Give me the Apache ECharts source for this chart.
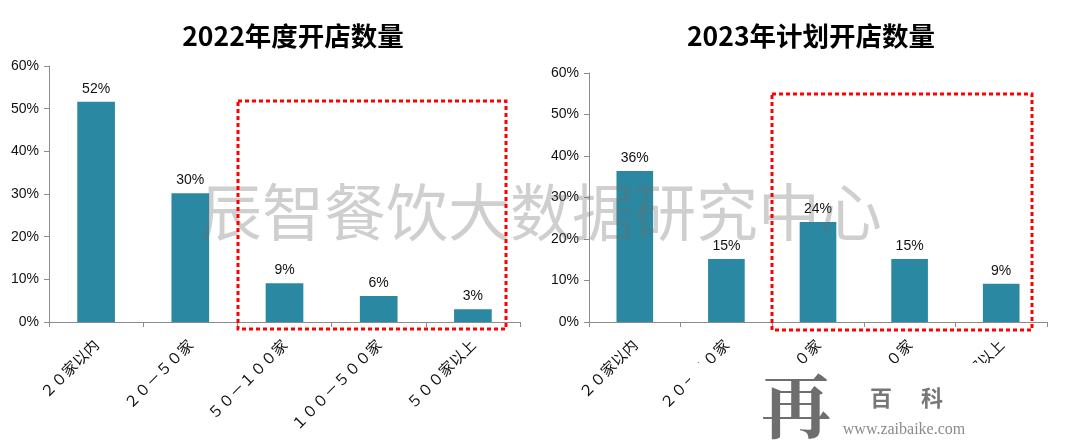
<!DOCTYPE html>
<html>
<head>
<meta charset="utf-8">
<script src="https://cdn.jsdelivr.net/npm/echarts@6/dist/echarts.min.js"></script>
<style>
  html, body { margin: 0; padding: 0; background: #fff; }
  #chart { width: 1080px; height: 444px; }
</style>
</head>
<body>
<div id="chart"></div>
<script>
// 开店规模分类
const categories = ['２０家以内', '２０－５０家', '５０－１００家', '１００－５００家', '５００家以上']
// 2022年度开店数量占比 (%)
const share2022 = [51.6, 30.2, 9.1, 6.1, 3.0]
// 2023年计划开店数量占比 (%)
const share2023 = [36.4, 15.2, 24.1, 15.2, 9.2]
// y 轴刻度
const yMin = 0
const yMax = 60
const yStep = 10

const titles = ['2022年度开店数量', '2023年计划开店数量']
const watermark = '辰智餐饮大数据研究中心'

const barColor = '#2b88a2'
const axisGray = '#8c8c8c'
const numFont = '"Liberation Sans", Arial, sans-serif'
const cjkFont = '"Noto Sans CJK SC", sans-serif'

function yAxis(gridIndex) {
  return {
    type: 'value',
    gridIndex: gridIndex,
    min: yMin,
    max: yMax,
    interval: yStep,
    splitLine: { show: false },
    axisLine: { show: true, lineStyle: { color: axisGray } },
    axisTick: { show: true, length: 5, lineStyle: { color: axisGray } },
    axisLabel: {
      margin: 10,
      color: '#111',
      fontSize: 14,
      fontFamily: numFont,
      formatter: '{value}%'
    }
  }
}

function xAxis(gridIndex) {
  return {
    type: 'category',
    gridIndex: gridIndex,
    data: categories,
    axisLine: { lineStyle: { color: axisGray } },
    axisTick: { show: true, length: 5, lineStyle: { color: axisGray } },
    axisLabel: {
      rotate: 45,
      margin: 20,
      padding: [16, 0, 0, 0],
      interval: 0,
      color: '#111',
      fontSize: 15,
      fontFamily: cjkFont
    }
  }
}

function barSeries(idx, data) {
  return {
    type: 'bar',
    xAxisIndex: idx,
    yAxisIndex: idx,
    data: data,
    barWidth: '40%',
    itemStyle: { color: barColor },
    label: {
      show: true,
      position: 'top',
      distance: 6,
      color: '#111',
      fontSize: 14,
      fontFamily: numFont,
      formatter: p => Math.round(p.value) + '%'
    }
  }
}

// 红色虚线框
function dottedBox(x, y, w, h) {
  return {
    type: 'rect',
    z: 60,
    shape: { x: x, y: y, width: w, height: h },
    style: { fill: null, stroke: '#ff0000', lineWidth: 3, lineDash: [4, 3] }
  }
}

const chart = echarts.init(document.getElementById('chart'), null, { renderer: 'canvas' })
chart.setOption({
  animation: false,
  backgroundColor: '#fff',
  title: [
    {
      text: titles[0], left: 288, top: 18, textAlign: 'center',
      textStyle: { fontSize: 26.5, fontWeight: 'bold', color: '#000', fontFamily: cjkFont }
    },
    {
      text: titles[1], left: 806, top: 18, textAlign: 'center',
      textStyle: { fontSize: 26.5, fontWeight: 'bold', color: '#000', fontFamily: cjkFont }
    }
  ],
  grid: [
    { left: 49, top: 66, width: 471, height: 256 },
    { left: 589, top: 73, width: 458, height: 249 }
  ],
  xAxis: [xAxis(0), xAxis(1)],
  yAxis: [yAxis(0), yAxis(1)],
  series: [barSeries(0, share2022), barSeries(1, share2023)],
  graphic: [
    {
      type: 'text',
      z: 50,
      x: 541,
      y: 212,
      style: {
        text: watermark,
        fontSize: 62,
        fontFamily: cjkFont,
        fill: 'rgba(110,110,110,0.33)',
        align: 'center',
        verticalAlign: 'middle'
      }
    },
    dottedBox(238, 101, 268, 228),
    dottedBox(772, 94, 260, 236),
    // 水印 logo 背景
    {
      type: 'rect',
      z: 70,
      shape: { x: 690, y: 363, width: 390, height: 81 },
      style: { fill: '#fff' }
    },
    {
      type: 'text',
      z: 80,
      x: 796,
      y: 406,
      style: {
        text: '再',
        fontSize: 70,
        fontWeight: 'bold',
        fontFamily: '"Noto Serif CJK SC", "Noto Sans CJK SC", serif',
        fill: '#6e6e6e',
        align: 'center',
        verticalAlign: 'middle'
      }
    },
    {
      type: 'text',
      z: 80,
      x: 881,
      y: 398,
      style: {
        text: '百',
        fontSize: 22,
        fontWeight: 'bold',
        fontFamily: cjkFont,
        fill: '#777',
        align: 'center',
        verticalAlign: 'middle'
      }
    },
    {
      type: 'text',
      z: 80,
      x: 932,
      y: 398,
      style: {
        text: '科',
        fontSize: 22,
        fontWeight: 'bold',
        fontFamily: cjkFont,
        fill: '#777',
        align: 'center',
        verticalAlign: 'middle'
      }
    },
    {
      type: 'text',
      z: 80,
      x: 904,
      y: 430,
      style: {
        text: 'www.zaibaike.com',
        fontSize: 16,
        fontFamily: '"Liberation Serif", "DejaVu Serif", serif',
        fill: '#8a8a8a',
        align: 'center',
        verticalAlign: 'middle'
      }
    }
  ]
})
</script>
</body>
</html>
